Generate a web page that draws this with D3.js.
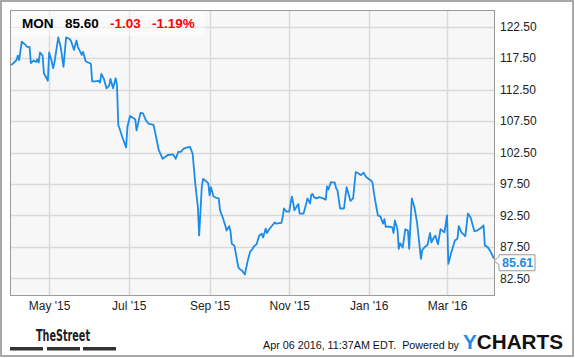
<!DOCTYPE html>
<html>
<head>
<meta charset="utf-8">
<script src="https://cdn.jsdelivr.net/npm/d3@7"></script>
<style>
  body { margin: 0; background: #fff; }
  svg { display: block; font-family: Arial, "Liberation Sans", sans-serif; }
</style>
</head>
<body>
<svg width="575" height="358"></svg>
<script>

var dates = [
  "2015-04-02","2015-04-06","2015-04-07","2015-04-08","2015-04-10","2015-04-13","2015-04-14","2015-04-16",
  "2015-04-17","2015-04-19","2015-04-21","2015-04-22","2015-04-23","2015-04-24","2015-04-26","2015-04-27",
  "2015-04-30","2015-05-01","2015-05-03","2015-05-04","2015-05-05","2015-05-08","2015-05-10","2015-05-12",
  "2015-05-14","2015-05-17","2015-05-18","2015-05-20","2015-05-22","2015-05-23","2015-05-26","2015-05-27",
  "2015-05-29","2015-05-31","2015-06-02","2015-06-03","2015-06-05","2015-06-08","2015-06-09","2015-06-10",
  "2015-06-12","2015-06-14","2015-06-16","2015-06-17","2015-06-19","2015-06-21","2015-06-22","2015-06-23",
  "2015-06-24","2015-06-26","2015-06-29","2015-06-30","2015-07-02","2015-07-06","2015-07-07","2015-07-10",
  "2015-07-12","2015-07-14","2015-07-16","2015-07-20","2015-07-22","2015-07-24","2015-07-27","2015-07-31",
  "2015-08-04","2015-08-06","2015-08-08","2015-08-10","2015-08-12","2015-08-15","2015-08-17","2015-08-19",
  "2015-08-21","2015-08-23","2015-08-24","2015-08-26","2015-08-27","2015-08-29","2015-08-31","2015-09-01",
  "2015-09-02","2015-09-04","2015-09-06","2015-09-08","2015-09-09","2015-09-11","2015-09-13","2015-09-14",
  "2015-09-16","2015-09-17","2015-09-18","2015-09-20","2015-09-23","2015-09-24","2015-09-26","2015-09-28",
  "2015-09-30","2015-10-02","2015-10-04","2015-10-05","2015-10-07","2015-10-09","2015-10-11","2015-10-12",
  "2015-10-14","2015-10-15","2015-10-17","2015-10-19","2015-10-21","2015-10-22","2015-10-26","2015-10-27",
  "2015-10-28","2015-10-30","2015-11-01","2015-11-03","2015-11-04","2015-11-05","2015-11-07","2015-11-08",
  "2015-11-09","2015-11-12","2015-11-14","2015-11-15","2015-11-17","2015-11-18","2015-11-19","2015-11-20",
  "2015-11-22","2015-11-24","2015-11-27","2015-11-29","2015-11-30","2015-12-01","2015-12-03","2015-12-06",
  "2015-12-07","2015-12-08","2015-12-10","2015-12-13","2015-12-15","2015-12-18","2015-12-20","2015-12-22",
  "2015-12-24","2015-12-26","2015-12-28","2015-12-30","2016-01-01","2016-01-03","2016-01-04","2016-01-05",
  "2016-01-07","2016-01-08","2016-01-10","2016-01-12","2016-01-13","2016-01-14","2016-01-17","2016-01-19",
  "2016-01-20","2016-01-21","2016-01-23","2016-01-24","2016-01-25","2016-01-27","2016-01-28","2016-01-29",
  "2016-01-31","2016-02-01","2016-02-03","2016-02-05","2016-02-07","2016-02-10","2016-02-11","2016-02-13",
  "2016-02-15","2016-02-17","2016-02-18","2016-02-20","2016-02-21","2016-02-23","2016-02-25","2016-02-28",
  "2016-03-01","2016-03-02","2016-03-04","2016-03-07","2016-03-09","2016-03-10","2016-03-12","2016-03-15",
  "2016-03-17","2016-03-19","2016-03-22","2016-03-24","2016-03-27","2016-03-29","2016-03-30","2016-04-01",
  "2016-04-03","2016-04-06"
];

var prices = [
  116.4,117.2,117.9,117.2,120.1,119.6,119.3,119.3,
  116.7,117.1,116.9,117.3,116.8,118.4,117.9,115.1,
  113.9,118.4,117.0,115.9,116.7,120.8,119.1,116.1,
  120.8,120.5,120.1,118.8,120.3,119.3,118.0,118.5,
  117.0,116.8,116.6,113.8,113.8,113.9,113.6,115.0,
  114.2,112.7,113.1,114.2,112.7,114.3,113.2,106.9,
  106.3,105.0,103.3,106.6,108.3,107.8,106.0,108.8,
  108.7,107.7,107.1,106.9,105.0,102.9,101.5,102.1,
  102.2,101.5,102.6,102.6,103.1,103.3,103.4,102.3,
  97.6,93.8,89.3,97.0,98.3,98.0,97.6,95.7,
  97.0,95.5,95.3,95.2,93.3,92.2,90.9,90.1,
  90.8,90.0,88.0,87.7,84.3,84.0,83.7,83.1,
  85.1,86.7,87.2,87.6,87.9,89.3,89.6,89.0,
  90.4,89.7,90.4,90.9,91.4,91.2,91.3,92.2,
  93.6,93.1,93.1,95.5,94.6,93.3,94.0,94.3,
  92.8,92.8,94.3,95.2,94.4,95.8,95.9,95.4,
  95.2,95.4,95.2,95.0,97.1,96.6,97.8,97.7,
  96.8,96.5,93.6,93.6,97.0,94.8,95.2,99.4,
  99.2,98.9,99.3,98.6,98.3,98.0,97.6,96.0,
  93.6,92.5,92.3,91.2,91.9,90.7,90.7,90.6,
  89.7,91.7,90.3,87.2,88.1,87.4,88.8,90.3,
  90.1,87.2,95.2,93.8,91.4,85.6,87.0,87.5,
  87.8,89.7,88.2,89.0,89.3,87.9,90.3,89.8,
  92.5,84.8,86.4,88.5,88.8,90.8,89.8,89.2,
  92.8,92.2,90.0,90.1,90.5,90.9,87.7,87.5,
  86.9,85.61
];

var xTicks = ["2015-05-01","2015-07-01","2015-09-01","2015-11-01","2016-01-01","2016-03-01"];
var yTicks = [82.5, 87.5, 92.5, 97.5, 102.5, 107.5, 112.5, 117.5, 122.5];

var ticker = "MON", lastClose = "85.60", change = "-1.03", changePct = "-1.19%";
var stamp = "Apr 06 2016, 11:37AM EDT.  Powered by";

var parse = d3.timeParse("%Y-%m-%d");
var data = dates.map(function(d, i) { return {date: parse(d), price: prices[i]}; });

var svg = d3.select("svg"),
    plot = {left: 10, top: 10, right: 494, bottom: 295};

var x = d3.scaleTime()
    .domain([parse("2015-04-01"), parse("2016-04-06")])
    .range([plot.left, plot.right]);
var y = d3.scaleLinear()
    .domain([79.85, 125.15])
    .range([plot.bottom, plot.top]);

// outer frame
svg.append("rect")
    .attr("x", 1).attr("y", 1).attr("width", 572).attr("height", 355)
    .attr("fill", "#fff").attr("stroke", "#8c8c8c").attr("stroke-width", 1.5);

svg.append("rect")
    .attr("x", plot.left).attr("y", plot.top)
    .attr("width", plot.right - plot.left).attr("height", plot.bottom - plot.top)
    .attr("fill", "#f7f7f7");

svg.append("g").selectAll("line")
    .data(yTicks)
  .enter().append("line")
    .attr("x1", plot.left).attr("x2", plot.right)
    .attr("y1", function(d) { return Math.round(y(d)) + 0.5; })
    .attr("y2", function(d) { return Math.round(y(d)) + 0.5; })
    .attr("stroke", "#d9d9d9").attr("stroke-width", 1.5);

svg.append("g").selectAll("line")
    .data(xTicks)
  .enter().append("line")
    .attr("x1", function(d) { return Math.round(x(parse(d))) + 0.5; })
    .attr("x2", function(d) { return Math.round(x(parse(d))) + 0.5; })
    .attr("y1", plot.top).attr("y2", plot.bottom)
    .attr("stroke", "#d9d9d9").attr("stroke-width", 1.5);

// header band
svg.append("rect")
    .attr("x", plot.left).attr("y", plot.top).attr("width", 195).attr("height", 26)
    .attr("fill", "#fff").attr("fill-opacity", 0.5);

var line = d3.line()
    .x(function(d) { return x(d.date); })
    .y(function(d) { return y(d.price); });

svg.append("path")
    .datum(data)
    .attr("fill", "none")
    .attr("stroke", "#1b8ce8")
    .attr("stroke-width", 1.8)
    .attr("stroke-linejoin", "round")
    .attr("d", line);

svg.append("rect")
    .attr("x", plot.left + 0.5).attr("y", plot.top + 0.5)
    .attr("width", plot.right - plot.left).attr("height", plot.bottom - plot.top)
    .attr("fill", "none").attr("stroke", "#9a9a9a");

// axes
var yAxis = svg.append("g")
    .attr("transform", "translate(" + (plot.right + 6) + ",0)")
    .call(d3.axisRight(y).tickValues(yTicks).tickFormat(d3.format(".2f")).tickSize(0));
yAxis.select(".domain").remove();
yAxis.selectAll("text")
    .attr("x", 0)
    .attr("fill", "#222")
    .style("font-size", "12px")
    .style("font-family", "Arial, 'Liberation Sans', sans-serif");

var xAxis = svg.append("g")
    .attr("transform", "translate(0," + plot.bottom + ")")
    .call(d3.axisBottom(x).tickValues(xTicks.map(parse)).tickFormat(d3.timeFormat("%b '%y")).tickSize(0));
xAxis.select(".domain").remove();
xAxis.selectAll("text")
    .attr("y", 6)
    .attr("fill", "#222")
    .style("font-size", "12px")
    .style("font-family", "Arial, 'Liberation Sans', sans-serif");

// last value flag
var last = data[data.length - 1],
    lx = x(last.date), ly = y(last.price);
svg.append("path")
    .attr("d", "M" + (lx + 5) + "," + (ly - 4) + "H" + (lx + 41) + "V" + (ly + 12) +
      "H" + (lx + 5) + "V" + (ly + 6) + "L" + lx + "," + (ly + 2) + "L" + (lx + 5) + "," + (ly - 2) + "Z")
    .attr("fill", "#fff").attr("stroke", "#999");
svg.append("text")
    .attr("x", lx + 8).attr("y", ly + 8)
    .attr("fill", "#1b8ce8")
    .style("font-size", "12.5px").style("font-weight", "bold")
    .text(d3.format(".2f")(last.price));

// header
var head = [
  {t: ticker, x: 22, c: "#000"},
  {t: lastClose, x: 65, c: "#000"},
  {t: change, x: 110, c: "#f00"},
  {t: changePct, x: 152, c: "#f00"}
];
svg.append("g").selectAll("text")
    .data(head)
  .enter().append("text")
    .attr("x", function(d) { return d.x; })
    .attr("y", 28)
    .attr("fill", function(d) { return d.c; })
    .style("font-size", "13.5px").style("font-weight", "bold")
    .text(function(d) { return d.t; });

// footer
svg.append("text")
    .attr("x", 36).attr("y", 341)
    .attr("textLength", 54).attr("lengthAdjust", "spacingAndGlyphs")
    .attr("fill", "#222")
    .style("font-family", "'Liberation Sans Narrow', 'DejaVu Sans Condensed', sans-serif")
    .style("font-size", "16px").style("font-weight", "bold")
    .text("TheStreet");
svg.append("g").selectAll("rect")
    .data([10, 47, 83])
  .enter().append("rect")
    .attr("x", function(d) { return d; }).attr("y", 347)
    .attr("width", 33).attr("height", 3.5)
    .attr("fill", "#333");

svg.append("text")
    .attr("x", 459).attr("y", 349)
    .attr("text-anchor", "end")
    .attr("textLength", 196).attr("lengthAdjust", "spacingAndGlyphs")
    .attr("fill", "#111")
    .style("font-size", "11px")
    .style("white-space", "pre")
    .attr("xml:space", "preserve")
    .text(stamp);

var logo = svg.append("text")
    .attr("x", 463).attr("y", 349)
    .attr("textLength", 100).attr("lengthAdjust", "spacingAndGlyphs")
    .style("font-size", "21px").style("font-weight", "bold");
logo.append("tspan").attr("fill", "#1b8ce8").text("Y");
logo.append("tspan").attr("fill", "#111").text("CHARTS");

</script>
</body>
</html>
